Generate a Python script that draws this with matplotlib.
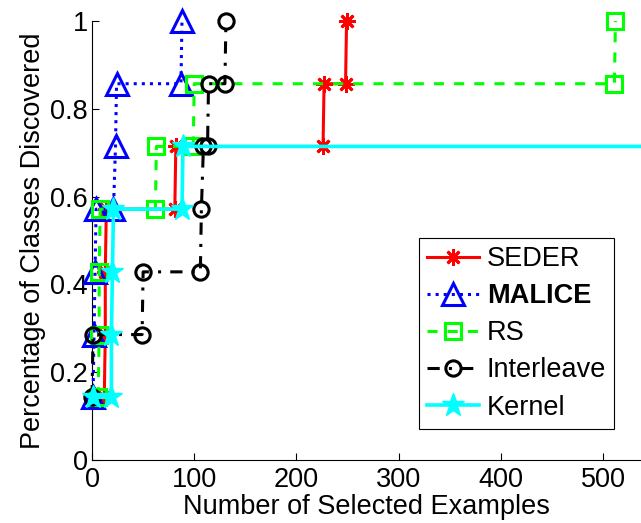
import matplotlib
matplotlib.use("Agg")
import matplotlib.pyplot as plt
import numpy as np

plt.rcParams['font.family'] = ['Liberation Sans', 'DejaVu Sans']

seder_x = [12, 13, 13, 14, 81, 82, 226, 227, 248, 249]
seder_y = [1/7, 2/7, 3/7, 4/7, 4/7, 5/7, 5/7, 6/7, 6/7, 1.0]

malice_x = [1, 2, 3, 4, 21, 23, 24, 87, 88]
malice_y = [1/7, 2/7, 3/7, 4/7, 4/7, 5/7, 6/7, 6/7, 1.0]

rs_x = [6, 7, 7, 8, 62, 63, 99, 100, 511, 512]
rs_y = [1/7, 2/7, 3/7, 4/7, 4/7, 5/7, 5/7, 6/7, 6/7, 1.0]

inter_x = [0, 1, 49, 50, 106, 107, 109, 113, 114, 130, 131]
inter_y = [1/7, 2/7, 2/7, 3/7, 3/7, 4/7, 5/7, 5/7, 6/7, 6/7, 1.0]

kernel_x = [1, 19, 19, 20, 21, 88, 89, 700]
kernel_y = [1/7, 1/7, 2/7, 3/7, 4/7, 4/7, 5/7, 5/7]

xticks = [0, 100, 200, 300, 400, 500]
yticks = [0, 0.2, 0.4, 0.6, 0.8, 1.0]
yticklabels = ['0', '0.2', '0.4', '0.6', '0.8', '1']

FS = 19.5

fig = plt.figure(figsize=(6.41, 5.23), dpi=100)
ax = fig.add_axes([92/641, 63/523, 549/641, 439/523])

lw = 2.2
ax.plot(seder_x, seder_y, color=(1, 0, 0), ls='-', lw=lw, marker=(8, 2, 0),
        ms=12, mew=2, label='SEDER', clip_on=False, zorder=3)
ax.plot(malice_x, malice_y, color=(0, 0, 1), ls=':', lw=lw, marker='^',
        ms=16, mew=2.2, mfc='none', label='MALICE', clip_on=False, zorder=3)
ax.plot(rs_x, rs_y, color=(0, 1, 0), ls=(0, (3.3, 3.3)), lw=lw, marker='s',
        ms=11, mew=2.2, mfc='none', label='RS', clip_on=False, zorder=3)
ax.plot(inter_x, inter_y, color='black', ls=(0, (4, 3, 1, 3)), lw=lw, marker='o',
        ms=11, mew=2.2, mfc='none', label='Interleave', clip_on=False, zorder=3)
ax.plot(kernel_x, kernel_y, color=(0, 1, 1), ls='-', lw=lw + 0.4, marker='*',
        ms=17, mew=1, label='Kernel', clip_on=False, zorder=3)

ax.set_xlim(0, 537)
ax.set_ylim(0, 1)
ax.set_xticks(xticks)
ax.set_yticks(yticks)
ax.set_yticklabels(yticklabels)
ax.tick_params(direction='in', labelsize=FS, length=5, width=0.8)
ax.tick_params(axis='x', pad=5)
ax.tick_params(axis='y', pad=3)
ax.spines['top'].set_visible(False)
ax.spines['right'].set_visible(False)
ax.set_xlabel('Number of Selected Examples', fontsize=FS, labelpad=1)
ax.set_ylabel('Percentage of Classes Discovered', fontsize=FS, labelpad=3)

handles, labels = ax.get_legend_handles_labels()
leg = ax.legend(handles, labels,
                loc='upper left', bbox_to_anchor=((419 - 92) / 549, (460 - 238) / 439),
                fontsize=FS, handlelength=1.9, labelspacing=0.41, borderpad=0.3,
                handletextpad=0.3, borderaxespad=0, fancybox=False, framealpha=1,
                edgecolor='black')
leg.get_frame().set_linewidth(0.8)
leg.get_texts()[1].set_fontweight('bold')

fig.savefig('out.png', dpi=100)
